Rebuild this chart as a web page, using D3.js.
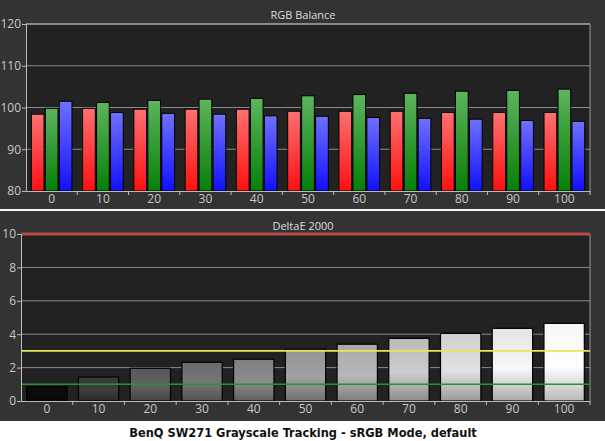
<!DOCTYPE html>
<html>
<head>
<meta charset="utf-8">
<script src="https://cdn.jsdelivr.net/npm/d3@7"></script>
<style>
  body { margin: 0; background: #fff; }
  text { font-family: "Open Sans", sans-serif; }
</style>
</head>
<body>
<svg width="605" height="441"></svg>
<script>
"use strict";

// 계조 단계 (x축)
const levels = ["0", "10", "20", "30", "40", "50", "60", "70", "80", "90", "100"];

// RGB Balance 값 (%)
const redVals   = [98.4, 99.8, 99.6, 99.6, 99.6, 99.1, 99.1, 99.1, 98.8, 98.8, 98.8];
const greenVals = [99.8, 101.2, 101.7, 102.0, 102.2, 102.8, 103.1, 103.4, 103.9, 104.1, 104.4];
const blueVals  = [101.5, 98.8, 98.6, 98.4, 98.0, 97.9, 97.6, 97.4, 97.2, 96.9, 96.7];

// DeltaE 2000 값
const deltaE = [0.86, 1.44, 1.96, 2.32, 2.5, 3.1, 3.4, 3.75, 4.05, 4.35, 4.65];

// 눈금
const rgbTicks = [80, 90, 100, 110, 120];
const deTicks = [0, 2, 4, 6, 8, 10];
// 기준선 (값, 색)
const refLines = [[10, "#b84a4a"], [3, "#e6e65a"], [1, "#2f8f2f"]];

const svg = d3.select("svg");
const defs = svg.append("defs");

// 배경
svg.append("rect").attr("x", 0).attr("y", 0).attr("width", 605).attr("height", 209).attr("fill", "#333");
svg.append("rect").attr("x", 0).attr("y", 211).attr("width", 605).attr("height", 210).attr("fill", "#333");
svg.append("line").attr("x1", 0).attr("x2", 605).attr("y1", 210).attr("y2", 210)
  .style("stroke", "#f0f0f0").style("stroke-width", 1.5);

// ---------- 위쪽: RGB Balance ----------
const x0 = d3.scaleBand().domain(levels).range([26, 590]);
const series = [
  { name: "r", vals: redVals, top: "#ff7070", bot: "#ff1010" },
  { name: "g", vals: greenVals, top: "#5eb45e", bot: "#067f06" },
  { name: "b", vals: blueVals, top: "#7070ff", bot: "#1010ff" }
];
const x1 = d3.scaleBand().domain(series.map(s => s.name)).range([0, x0.bandwidth()])
  .paddingInner(0.09).paddingOuter(0.38);
const y1 = d3.scaleLinear().domain([80, 120]).range([191, 24]);

series.forEach(s => {
  const g = defs.append("linearGradient").attr("id", "grad-" + s.name)
    .attr("x1", 0).attr("y1", 0).attr("x2", 0).attr("y2", 1);
  g.append("stop").attr("offset", "0%").attr("stop-color", s.top);
  g.append("stop").attr("offset", "100%").attr("stop-color", s.bot);
});

svg.append("rect").attr("x", 26).attr("y", 24).attr("width", 564).attr("height", 167).attr("fill", "#222");

// 격자선
svg.append("g").selectAll("line").data(rgbTicks.slice(1)).join("line")
  .attr("x1", 26).attr("x2", 590)
  .attr("y1", d => y1(d)).attr("y2", d => y1(d))
  .style("stroke", d => d === 120 ? "#aaa" : "#8a8a8a")
  .style("stroke-width", d => d === 120 ? 1.5 : 1);
svg.append("line").attr("x1", 590).attr("x2", 590).attr("y1", 24).attr("y2", 191)
  .style("stroke", "#999");

// 막대
series.forEach(s => {
  svg.append("g").selectAll("rect").data(levels).join("rect")
    .attr("x", (d, i) => x0(d) + x1(s.name))
    .attr("y", (d, i) => y1(s.vals[i]))
    .attr("width", x1.bandwidth())
    .attr("height", (d, i) => y1(80) - y1(s.vals[i]))
    .attr("fill", "url(#grad-" + s.name + ")")
    .style("stroke", "#000").style("stroke-width", 1);
});

// 축
const yAxis1 = svg.append("g").attr("transform", "translate(26,0)")
  .call(d3.axisLeft(y1).tickValues(rgbTicks).tickSize(4).tickPadding(1));
const xAxis1 = svg.append("g").attr("transform", "translate(0,191)")
  .call(d3.axisBottom(x0).tickSize(0).tickPadding(3));

// x축 경계 눈금
svg.append("g").selectAll("line").data(levels.slice(1).map(d => x0(d)).concat([590])).join("line")
  .attr("x1", d => d).attr("x2", d => d).attr("y1", 191).attr("y2", 195)
  .style("stroke", "#bbb");

svg.append("text").attr("x", 303).attr("y", 19).attr("text-anchor", "middle")
  .style("font-size", "11px").style("fill", "#ddd").text("RGB Balance");

// ---------- 아래쪽: DeltaE 2000 ----------
const xb = d3.scaleBand().domain(levels).range([21, 590]).paddingInner(0.22).paddingOuter(0.11);
const xbOuter = d3.scaleBand().domain(levels).range([21, 590]);
const y2 = d3.scaleLinear().domain([0, 10]).range([401, 234]);
const grayScale = d3.scaleLinear().domain([0, 10, 20, 100])
  .range(["#0a0a0a", "#3a3a3a", "#5c5c5c", "#ffffff"]);

svg.append("rect").attr("x", 21).attr("y", 234).attr("width", 569).attr("height", 167).attr("fill", "#222");

svg.append("g").selectAll("line").data(deTicks.slice(1, -1)).join("line")
  .attr("x1", 21).attr("x2", 590)
  .attr("y1", d => y2(d)).attr("y2", d => y2(d))
  .style("stroke", "#8a8a8a");
svg.append("line").attr("x1", 590).attr("x2", 590).attr("y1", 234).attr("y2", 401)
  .style("stroke", "#999");

// 회색 막대 그라데이션
levels.forEach((d, i) => {
  const c = d3.color(grayScale(+d));
  const g = defs.append("linearGradient").attr("id", "gray-" + i)
    .attr("x1", 0).attr("y1", 0).attr("x2", 0).attr("y2", 1);
  g.append("stop").attr("offset", "0%").attr("stop-color", c.darker(0.1));
  g.append("stop").attr("offset", "55%").attr("stop-color", c.brighter(0.15));
  g.append("stop").attr("offset", "100%").attr("stop-color", c.darker(0.9));
});

svg.append("g").selectAll("rect").data(levels).join("rect")
  .attr("x", d => xb(d))
  .attr("y", (d, i) => y2(deltaE[i]))
  .attr("width", xb.bandwidth())
  .attr("height", (d, i) => y2(0) - y2(deltaE[i]))
  .attr("fill", (d, i) => "url(#gray-" + i + ")")
  .style("stroke", "#000").style("stroke-width", 1.2);

// 기준선
svg.append("g").selectAll("line").data(refLines).join("line")
  .attr("x1", 21).attr("x2", 590)
  .attr("y1", d => y2(d[0])).attr("y2", d => y2(d[0]))
  .style("stroke", d => d[1])
  .style("stroke-width", d => d[0] === 10 ? 3 : 1.6);

const yAxis2 = svg.append("g").attr("transform", "translate(21,0)")
  .call(d3.axisLeft(y2).tickValues(deTicks).tickSize(4).tickPadding(1));
const xAxis2 = svg.append("g").attr("transform", "translate(0,401)")
  .call(d3.axisBottom(xbOuter).tickSize(0).tickPadding(3));

svg.append("g").selectAll("line").data(levels.slice(1).map(d => xbOuter(d)).concat([590])).join("line")
  .attr("x1", d => d).attr("x2", d => d).attr("y1", 401).attr("y2", 405)
  .style("stroke", "#bbb");

svg.append("text").attr("x", 303).attr("y", 230).attr("text-anchor", "middle")
  .style("font-size", "11px").style("fill", "#ddd").text("DeltaE 2000");

// 축 스타일
[yAxis1, xAxis1, yAxis2, xAxis2].forEach(a => {
  a.selectAll("path.domain").style("stroke", "#bbb");
  a.selectAll(".tick line").style("stroke", "#bbb");
  a.selectAll("text").style("font-family", "'Open Sans', sans-serif")
    .style("font-size", "12px").style("fill", "#c8c8c8");
});

// 아래 제목
svg.append("text").attr("x", 303).attr("y", 437).attr("text-anchor", "middle")
  .style("font-family", "'DejaVu Sans Condensed', 'DejaVu Sans', sans-serif").style("font-weight", "bold")
  .style("font-size", "12.7px").style("fill", "#111")
  .text("BenQ SW271 Grayscale Tracking - sRGB Mode, default");
</script>
</body>
</html>
